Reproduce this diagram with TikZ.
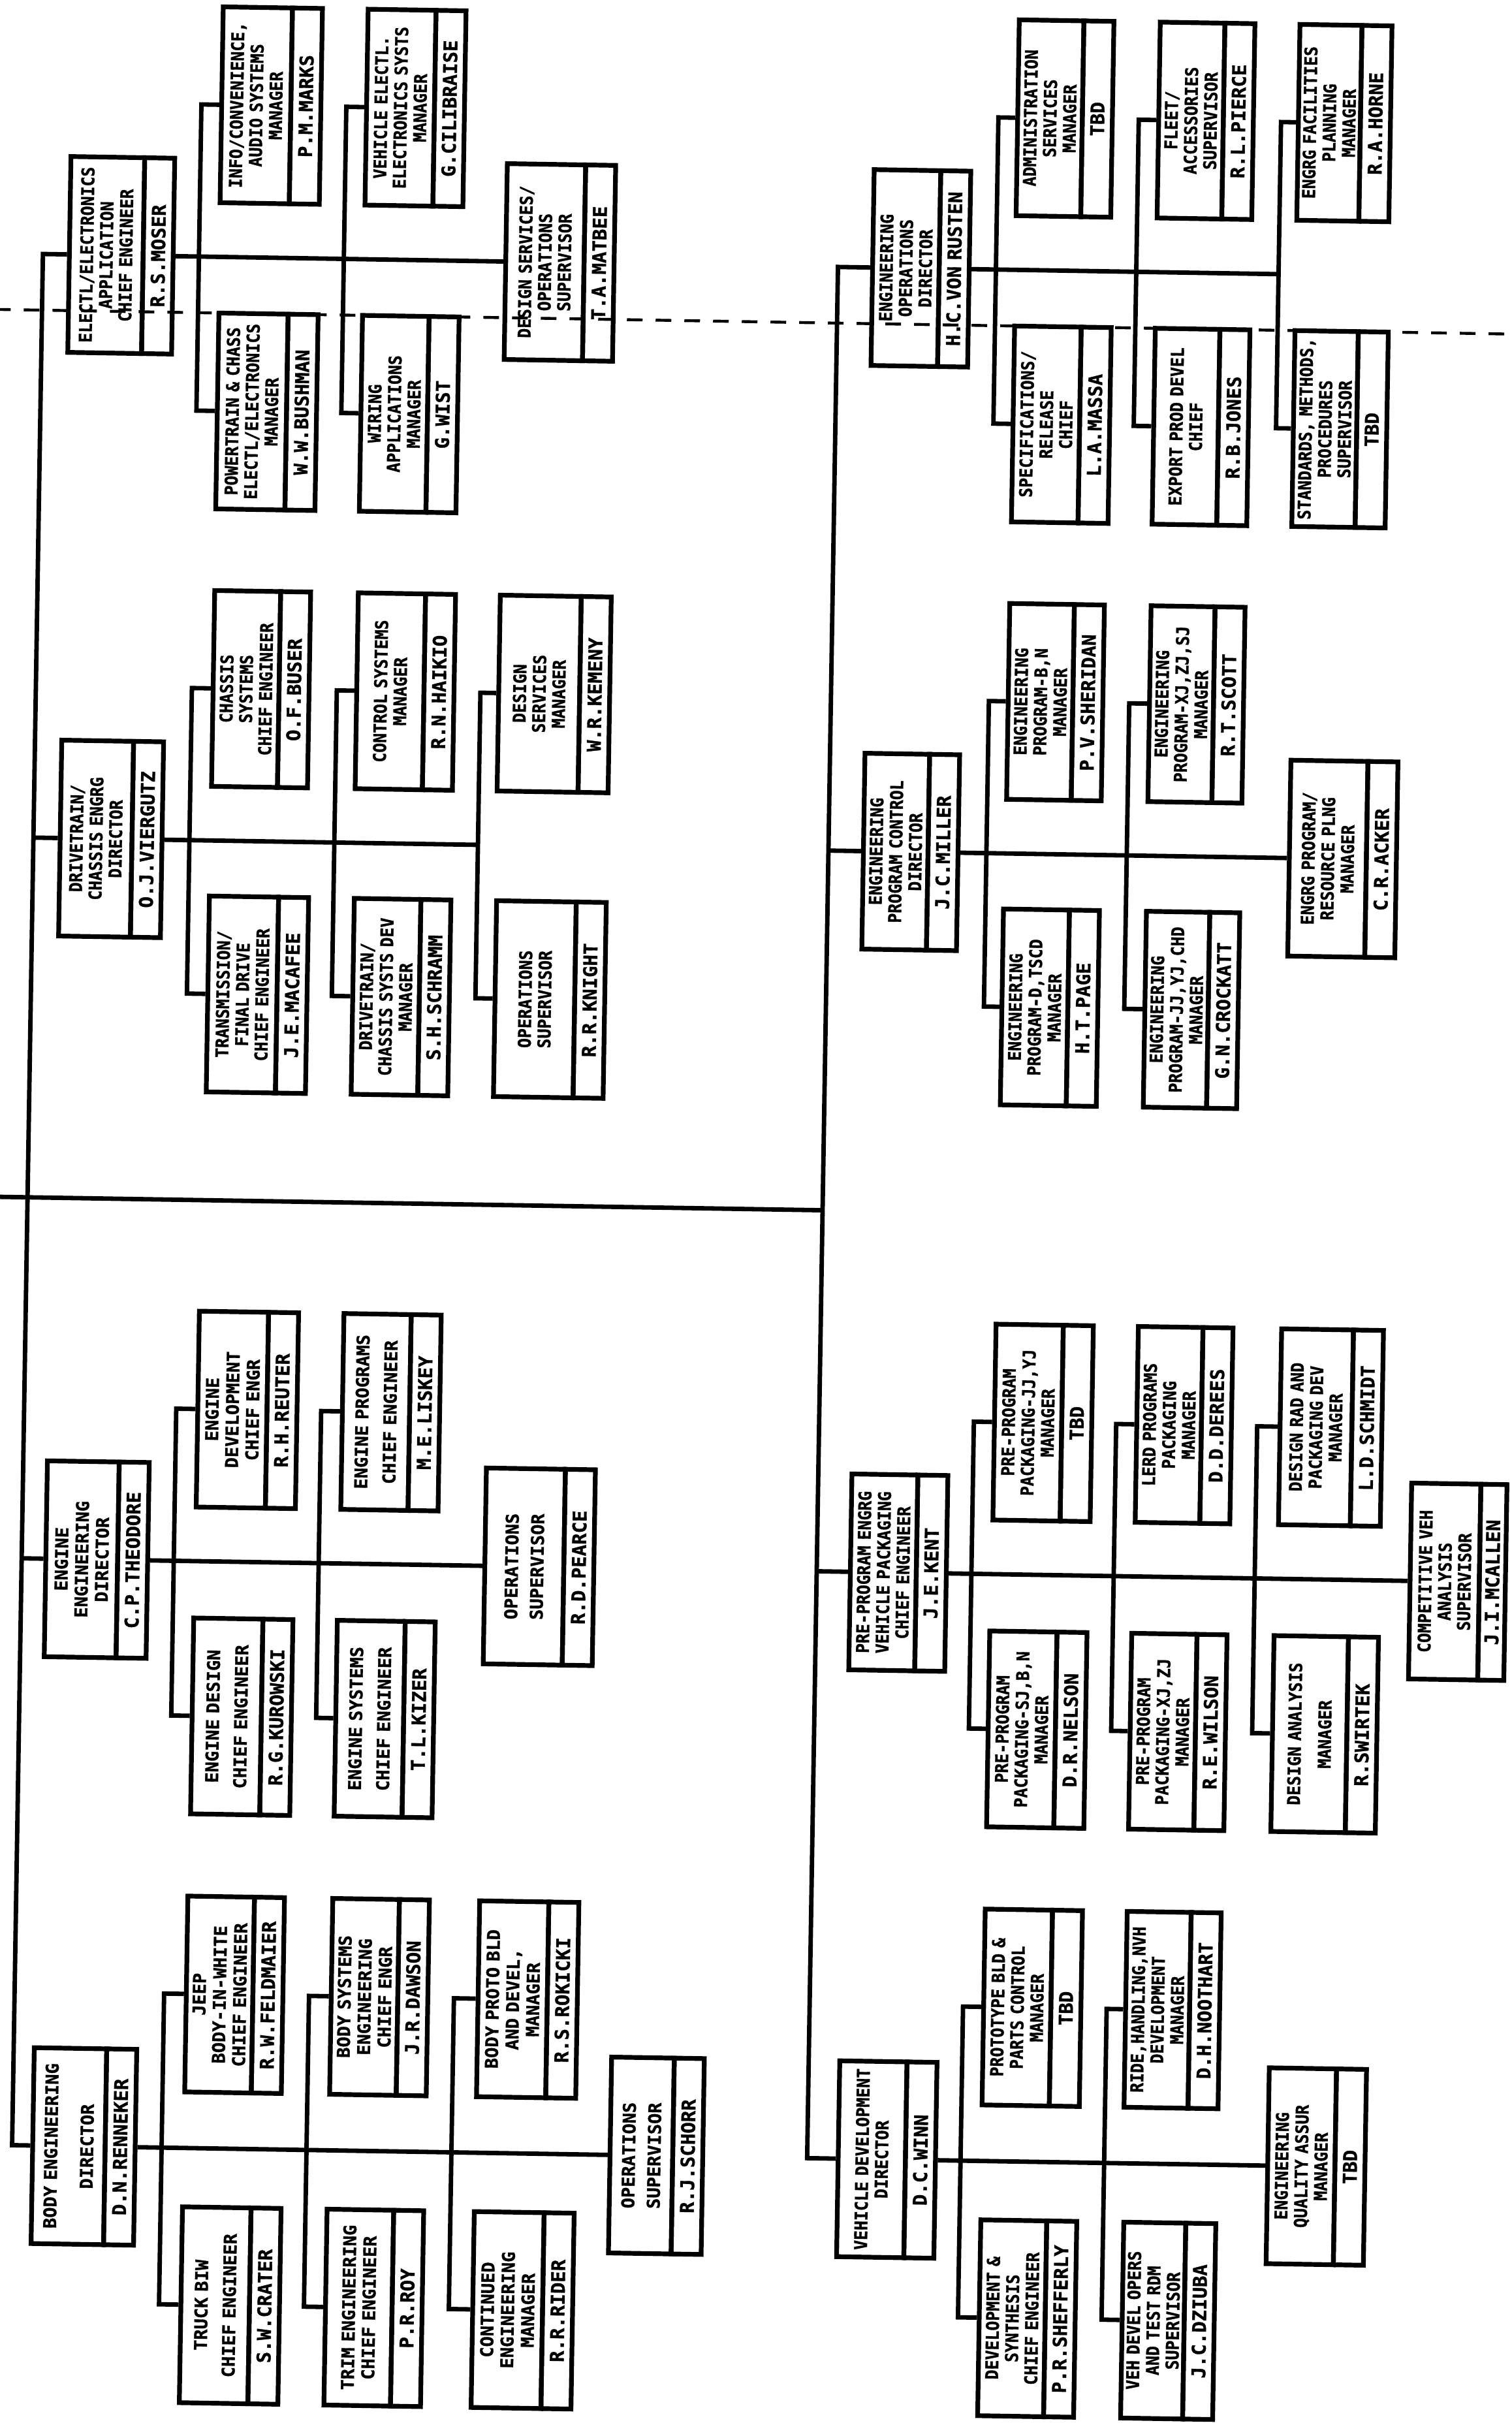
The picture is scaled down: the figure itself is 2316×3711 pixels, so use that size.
\documentclass[tikz,border=0pt]{standalone}
\usepackage{fontspec}
\newfontfamily\monoN{DejaVu Sans Mono}[FakeStretch=0.92, FakeBold=1.2]
\newfontfamily\monoW{DejaVu Sans Mono}[FakeBold=1.2]
\newcommand\orgfont{\monoN\bfseries\fontsize{13.5}{15}\selectfont}
\newcommand\orgfontw{\monoW\bfseries\fontsize{13.5}{15.5}\selectfont}
\newcommand\namefont{\monoW\bfseries\fontsize{14.5}{15}\selectfont}
\newcommand\curtitle{\orgfont}
\tikzset{
  conn/.style={line width=3.4pt},
  orgbox/.style={draw, line width=3.6pt, rotate=90, inner sep=0pt, align=center},
  dashline/.style={line width=2.2pt, dash pattern=on 12pt off 10pt},
}
\newcommand\stripw{46}
\newcommand\boxh{300}
% #1 id, #2 centre u, #3 centre v, #4 box width, #5 title, #6 name
\newcommand\obox[6]{%
  \pgfmathsetmacro\obTW{0.5*(#4-\stripw)}%
  \pgfmathsetmacro\obSW{0.5*\stripw}%
  \pgfmathsetmacro\obBH{0.5*\boxh}%
  \pgfmathsetmacro\obTU{#2-\stripw/2}%
  \pgfmathsetmacro\obNU{#2+#4/2-\stripw/2}%
  \node[orgbox, font=\curtitle, minimum width=\obBH pt, text width=\obBH pt, minimum height=\obTW pt] (#1) at (\obTU,#3) {#5};%
  \node[orgbox, font=\namefont, minimum width=\obBH pt, text width=\obBH pt, minimum height=\obSW pt] (#1-n) at (\obNU,#3) {#6};%
}
% #1 prefix, #2 u, #3 v top, #4 v bottom, #5 top node, #6 bottom node
\newcommand\branch[6]{%
  \coordinate (#1t) at (#2,#3);%
  \coordinate (#1b) at (#2,#4);%
  \draw[conn] (#5.north) -- (#1t) -- (#1b) -- (#6.north);%
}
\begin{document}
\begin{tikzpicture}[x=0.5pt, y=-0.5pt]
\fill[white] (0,0) rectangle (2316,3711);
\useasboundingbox (0,0) rectangle (2316,3711);
\begin{scope}[rotate around={-0.934:(1158,1855)}, transform shape]
% ---------- group E ----------
\obox{dirE}{162}{407}{159}{ELECTL/ELECTRONICS\\APPLICATION\\CHIEF ENGINEER}{R.S.MOSER}
\obox{info}{388}{174}{152}{INFO/CONVENIENCE,\\AUDIO SYSTEMS\\MANAGER}{P.M.MARKS}
\obox{pwr}{389}{643}{152}{POWERTRAIN \& CHASS\\ELECTL/ELECTRONICS\\MANAGER}{W.W.BUSHMAN}
\obox{vee}{609}{174}{150}{VEHICLE ELECTL.\\ELECTRONICS SYSTS\\MANAGER}{G.CILIBRAISE}
\obox{wir}{607}{643}{148}{WIRING\\APPLICATIONS\\MANAGER}{G.WIST}
\obox{dso}{834}{407}{166}{DESIGN SERVICES/\\OPERATIONS\\SUPERVISOR}{T.A.MATBEE}
% ---------- group O ----------
\obox{dirO}{1387}{407}{148}{ENGINEERING\\OPERATIONS\\DIRECTOR}{H.C.VON RUSTEN}
\obox{adm}{1604}{174}{145}{ADMINISTRATION\\SERVICES\\MANAGER}{TBD}
\obox{spec}{1606}{643}{148}{SPECIFICATIONS/\\RELEASE\\CHIEF}{L.A.MASSA}
\obox{flt}{1820}{174}{145}{FLEET/\\ACCESSORIES\\SUPERVISOR}{R.L.PIERCE}
\obox{expd}{1820}{643}{145}{EXPORT PROD DEVEL\\CHIEF}{R.B.JONES}
\obox{fac}{2032}{174}{141}{ENGRG FACILITIES\\PLANNING\\MANAGER}{R.A.HORNE}
\obox{std}{2033}{643}{143}{STANDARDS, METHODS,\\PROCEDURES\\SUPERVISOR}{TBD}
% ---------- group D ----------
\obox{dirD}{161}{1301}{156}{DRIVETRAIN/\\CHASSIS ENGRG\\DIRECTOR}{O.J.VIERGUTZ}
\obox{chs}{387}{1068}{147}{CHASSIS\\SYSTEMS\\CHIEF ENGINEER}{O.F.BUSER}
\obox{trn}{389}{1536}{152}{TRANSMISSION/\\FINAL DRIVE\\CHIEF ENGINEER}{J.E.MACAFEE}
\obox{ctl}{608}{1068}{149}{CONTROL SYSTEMS\\MANAGER}{R.N.HAIKIO}
\obox{dcs}{609}{1536}{148}{DRIVETRAIN/\\CHASSIS SYSTS DEV\\MANAGER}{S.H.SCHRAMM}
\obox{dsm}{836}{1068}{170}{DESIGN\\SERVICES\\MANAGER}{W.R.KEMENY}
\obox{opk}{837}{1536}{168}{OPERATIONS\\SUPERVISOR}{R.R.KNIGHT}
% ---------- group P ----------
\obox{dirP}{1386}{1301}{145}{ENGINEERING\\PROGRAM CONTROL\\DIRECTOR}{J.C.MILLER}
\obox{pbn}{1604}{1068}{145}{ENGINEERING\\PROGRAM-B,N\\MANAGER}{P.V.SHERIDAN}
\obox{pdt}{1603}{1536}{147}{ENGINEERING\\PROGRAM-D,TSCD\\MANAGER}{H.T.PAGE}
\obox{pxz}{1820}{1068}{144}{ENGINEERING\\PROGRAM-XJ,ZJ,SJ\\MANAGER}{R.T.SCOTT}
\obox{pjj}{1820}{1536}{143}{ENGINEERING\\PROGRAM-JJ,YJ,CHD\\MANAGER}{G.N.CROCKATT}
\obox{rpl}{2048}{1301}{164}{ENGRG PROGRAM/\\RESOURCE PLNG\\MANAGER}{C.R.ACKER}
% ---------- group G ----------
\renewcommand\curtitle{\orgfontw}
\obox{dirG}{157}{2405}{156}{ENGINE\\ENGINEERING\\DIRECTOR}{C.P.THEODORE}
\obox{edv}{384}{2172}{152}{ENGINE\\DEVELOPMENT\\CHIEF ENGR}{R.H.REUTER}
\obox{eds}{383}{2642}{152}{ENGINE DESIGN\\[6pt]CHIEF ENGINEER}{R.G.KUROWSKI}
\obox{epr}{604}{2172}{149}{ENGINE PROGRAMS\\[6pt]CHIEF ENGINEER}{M.E.LISKEY}
\obox{esy}{602}{2642}{150}{ENGINE SYSTEMS\\[6pt]CHIEF ENGINEER}{T.L.KIZER}
\obox{opp}{835}{2405}{167}{OPERATIONS\\[4pt]SUPERVISOR}{R.D.PEARCE}
% ---------- group K ----------
\renewcommand\curtitle{\orgfont}
\obox{dirK}{1385}{2405}{147}{PRE-PROGRAM ENGRG\\VEHICLE PACKAGING\\CHIEF ENGINEER}{J.E.KENT}
\obox{pjy}{1603}{2172}{149}{PRE-PROGRAM\\PACKAGING-JJ,YJ\\MANAGER}{TBD}
\obox{psb}{1601}{2642}{149}{PRE-PROGRAM\\PACKAGING-SJ,B,N\\MANAGER}{D.R.NELSON}
\obox{lrd}{1819}{2172}{145}{LERD PROGRAMS\\PACKAGING\\MANAGER}{D.D.DEREES}
\obox{pxj}{1817}{2642}{146}{PRE-PROGRAM\\PACKAGING-XJ,ZJ\\MANAGER}{R.E.WILSON}
\obox{drd}{2044}{2172}{156}{DESIGN RAD AND\\PACKAGING DEV\\MANAGER}{L.D.SCHMIDT}
\obox{dan}{2042}{2642}{160}{DESIGN ANALYSIS\\[8pt]MANAGER}{R.SWIRTEK}
\renewcommand\stripw{40}
\obox{cva}{2242}{2405}{146}{COMPETITIVE VEH\\ANALYSIS\\SUPERVISOR}{J.I.MCALLEN}
\renewcommand\stripw{46}
% ---------- group B ----------
\renewcommand\curtitle{\orgfontw}
\obox{dirB}{152}{3304}{157}{BODY ENGINEERING\\[12pt]DIRECTOR}{D.N.RENNEKER}
\obox{jep}{379}{3068}{148}{JEEP\\BODY-IN-WHITE\\CHIEF ENGINEER}{R.W.FELDMAIER}
\obox{tbw}{380}{3544}{151}{TRUCK BIW\\[6pt]CHIEF ENGINEER}{S.W.CRATER}
\obox{bse}{601}{3068}{148}{BODY SYSTEMS\\ENGINEERING\\CHIEF ENGR}{J.R.DAWSON}
\obox{trm}{600}{3544}{148}{TRIM ENGINEERING\\CHIEF ENGINEER}{P.R.ROY}
\obox{bpb}{828}{3068}{152}{BODY PROTO BLD\\AND DEVEL,\\MANAGER}{R.S.ROKICKI}
\obox{cen}{828}{3544}{153}{CONTINUED\\ENGINEERING\\MANAGER}{R.R.RIDER}
\obox{ops}{1029}{3304}{142}{OPERATIONS\\[4pt]SUPERVISOR}{R.J.SCHORR}
% ---------- group V ----------
\renewcommand\curtitle{\orgfont}
\obox{dirV}{1382}{3304}{149}{VEHICLE DEVELOPMENT\\DIRECTOR}{D.C.WINN}
\obox{pro}{1601}{3068}{149}{PROTOTYPE BLD \&\\PARTS CONTROL\\MANAGER}{TBD}
\obox{dsy}{1601}{3544}{147}{DEVELOPMENT \&\\SYNTHESIS\\CHIEF ENGINEER}{P.R.SHEFFERLY}
\obox{rid}{1816}{3068}{144}{RIDE,HANDLING,NVH\\DEVELOPMENT\\MANAGER}{D.H.NOOTHART}
\obox{vdo}{1817}{3544}{141}{VEH DEVEL OPERS\\AND TEST RDM\\SUPERVISOR}{J.C.DZIUBA}
\obox{eqa}{2040}{3304}{149}{ENGINEERING\\QUALITY ASSUR\\MANAGER}{TBD}
% ---------- trunks ----------
\coordinate (tLE) at (42,407);
\coordinate (tLD) at (42,1301);
\coordinate (tLG) at (42,2405);
\coordinate (tLB) at (42,3304);
\coordinate (tRO) at (1260,407);
\coordinate (tRP) at (1260,1301);
\coordinate (tRK) at (1260,2405);
\coordinate (tRV) at (1260,3304);
\coordinate (hL) at (-10,1852);
\coordinate (hR) at (1260,1852);
\draw[conn] (dirE.north) -- (tLE) -- (tLB) -- (dirB.north);
\draw[conn] (tLD) -- (dirD.north);
\draw[conn] (tLG) -- (dirG.north);
\draw[conn] (dirO.north) -- (tRO) -- (tRV) -- (dirV.north);
\draw[conn] (tRP) -- (dirP.north);
\draw[conn] (tRK) -- (dirK.north);
\draw[conn] (hL) -- (hR);
% ---------- group lines ----------
\draw[conn] (dirE-n.south) -- (dso.north);
\branch{E1}{281}{174}{643}{info}{pwr}
\branch{E2}{503}{174}{643}{vee}{wir}
\coordinate (O3m) at (1935,407);
\draw[conn] (dirO-n.south) -- (O3m);
\branch{O1}{1502}{174}{643}{adm}{spec}
\branch{O2}{1717}{174}{643}{flt}{expd}
\branch{O3}{1935}{174}{643}{fac}{std}
\coordinate (D3m) at (723,1301);
\draw[conn] (dirD-n.south) -- (D3m);
\branch{D1}{281}{1068}{1536}{chs}{trn}
\branch{D2}{503}{1068}{1536}{ctl}{dcs}
\branch{D3}{723}{1068}{1536}{dsm}{opk}
\draw[conn] (dirP-n.south) -- (rpl.north);
\branch{P1}{1502}{1068}{1536}{pbn}{pdt}
\branch{P2}{1717}{1068}{1536}{pxz}{pjj}
\draw[conn] (dirG-n.south) -- (opp.north);
\branch{G1}{275}{2172}{2642}{edv}{eds}
\branch{G2}{497}{2172}{2642}{epr}{esy}
\draw[conn] (dirK-n.south) -- (cva.north);
\branch{K1}{1497}{2172}{2642}{pjy}{psb}
\branch{K2}{1715}{2172}{2642}{lrd}{pxj}
\branch{K3}{1931}{2172}{2642}{drd}{dan}
\draw[conn] (dirB-n.south) -- (ops.north);
\branch{B1}{271}{3068}{3544}{jep}{tbw}
\branch{B2}{493}{3068}{3544}{bse}{trm}
\branch{B3}{715}{3068}{3544}{bpb}{cen}
\draw[conn] (dirV-n.south) -- (eqa.north);
\branch{V1}{1495}{3068}{3544}{pro}{dsy}
\branch{V2}{1715}{3068}{3544}{rid}{vdo}
% ---------- dashed line ----------
\coordinate (dL) at (-30,493);
\coordinate (dR) at (2350,493);
\draw[dashline] (dL) -- (dR);
\end{scope}
\end{tikzpicture}
\end{document}
